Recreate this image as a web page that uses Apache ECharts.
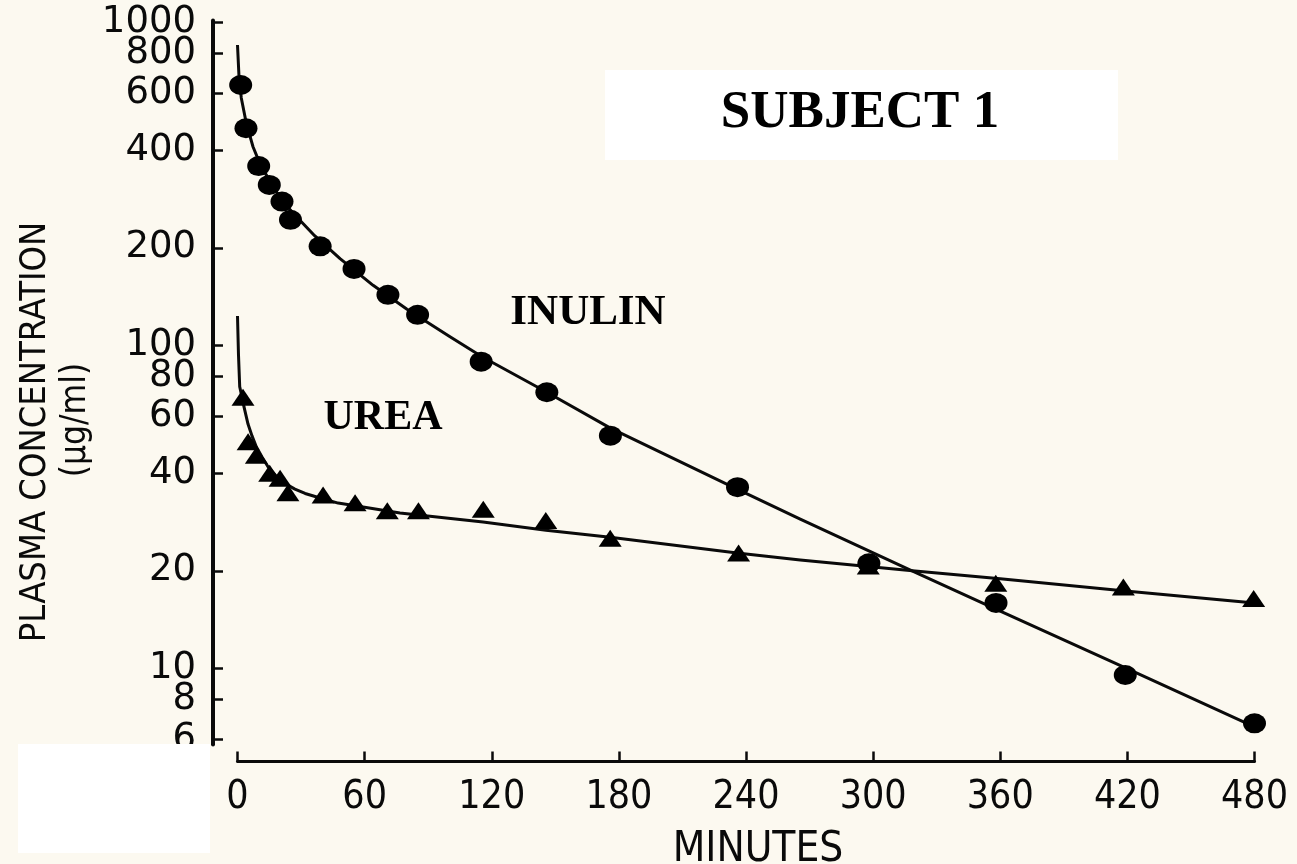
<!DOCTYPE html>
<html>
<head>
<meta charset="utf-8">
<script src="https://cdn.jsdelivr.net/npm/echarts@6/dist/echarts.min.js"></script>
<style>
html,body{margin:0;padding:0;background:#fcf9f0;}
#chart{width:1297px;height:864px;}
</style>
</head>
<body>
<div id="chart"></div>
<script>
// ---- data ----
const xTickValues = [0, 60, 120, 180, 240, 300, 360, 420, 480];
const yTickValues = [6, 8, 10, 20, 40, 60, 80, 100, 200, 400, 600, 800, 1000];

// measured points (minutes, µg/ml)
const inulinTimes = [1.5, 4, 10, 15, 21, 25, 39, 55, 71, 85, 115, 146, 176, 236, 298, 358, 419, 480];
const inulinConc  = [638, 469, 358, 313, 278, 244, 202, 172, 143, 124, 88.8, 71.4, 52.4, 36.3, 21.1, 15.9, 9.51, 6.74];

const ureaTimes = [2.6, 5, 8.9, 15.2, 20.1, 23.8, 40.4, 55.5, 70.7, 85.4, 116, 145.5, 175.9, 236.5, 297.7, 357.9, 418.1, 479.6];
const ureaConc  = [68.9, 50.2, 45.6, 40.1, 38.7, 34.9, 34.3, 32.5, 30.7, 30.7, 31.0, 28.6, 25.2, 22.7, 20.7, 18.3, 17.8, 16.4];

// fitted curves
const inulinCurveTimes = [0, 0.71, 1.79, 4.15, 7.32, 11.2, 16.0, 20.7, 27.0, 36.4, 48.4, 64.0, 80.0, 100.3, 115.6, 145.8, 176.0, 235.8, 265.6, 317.6, 360.0, 419.1, 480];
const inulinCurveConc  = [849, 677, 582, 486, 411, 356, 317, 281, 253, 218, 185, 153, 129, 106, 91.8, 71.5, 55.3, 35.8, 28.9, 20.1, 15.0, 10.0, 6.57];

const ureaCurveTimes = [0, 0.47, 1.04, 1.89, 3.07, 4.96, 6.85, 8.88, 11.57, 14.4, 18.2, 22.3, 27.1, 31.9, 39.0, 47.5, 57.8, 76.7, 115.9, 145.6, 175.9, 235.8, 265.6, 318.5, 360.0, 419.1, 480];
const ureaCurveConc  = [123, 93.1, 74.3, 70.0, 64.3, 56.9, 52.3, 48.4, 45.0, 42.0, 39.3, 37.3, 35.8, 34.7, 33.6, 32.4, 31.6, 30.2, 28.3, 26.7, 25.4, 22.7, 21.6, 20.0, 18.9, 17.3, 15.9];

const zip = (a, b) => a.map((v, i) => [v, b[i]]);

const INK = '#0a0a0a';
const narrow = "'Liberation Sans Narrow', 'DejaVu Sans Condensed', 'Liberation Sans', sans-serif";
const yLabelStyle = {margin: 17, color: INK, fontSize: 37, lineHeight: 26, fontFamily: "'DejaVu Sans', sans-serif",
  showMinLabel: true, showMaxLabel: true, hideOverlap: false, formatter: v => String(Math.round(v))};
const yScale = {type: 'log', logBase: 10, min: 5.8, max: 1010, offset: 24.5, splitLine: {show: false}, minorTick: {show: false}};

const chart = echarts.init(document.getElementById('chart'), null, {renderer: 'canvas'});
chart.setOption({
  animation: false,
  backgroundColor: '#fcf9f0',
  grid: {left: 237.5, right: 42.5, top: 20.6, bottom: 119.6, containLabel: false, outerBoundsMode: 'none'},
  xAxis: {
    type: 'value', min: 0, max: 480, interval: 60, offset: 17,
    axisLine: {show: true, onZero: false, lineStyle: {color: INK, width: 3}},
    axisTick: {show: true, inside: true, length: 10, lineStyle: {color: INK, width: 2.5}},
    splitLine: {show: false},
    axisLabel: {margin: 17, color: INK, fontSize: 39, fontFamily: narrow, showMinLabel: true, showMaxLabel: true,
      customValues: xTickValues, formatter: v => String(Math.round(v))},
    name: 'MINUTES', nameLocation: 'middle', nameGap: 68,
    nameTextStyle: {color: INK, fontSize: 42, fontFamily: narrow, padding: [0, 0, 0, 24]}
  },
  yAxis: [
    Object.assign({}, yScale, {
      position: 'left',
      axisLine: {show: true, onZero: false, lineStyle: {color: INK, width: 4}},
      axisTick: {show: true, inside: true, length: 10, lineStyle: {color: INK, width: 2.5}, customValues: yTickValues},
      axisLabel: Object.assign({}, yLabelStyle, {customValues: yTickValues.slice(0, -1)})
    }),
    Object.assign({}, yScale, {
      position: 'left',
      axisLine: {show: false, onZero: false},
      axisTick: {show: false},
      axisLabel: Object.assign({}, yLabelStyle, {customValues: yTickValues.slice(-1)})
    })
  ],
  graphic: [
    {type: 'rect', shape: {x: 605, y: 70, width: 513, height: 90}, style: {fill: '#ffffff'}, z: 1},
    {type: 'text', x: 860, y: 113, z: 2, style: {text: 'SUBJECT 1', fill: '#000', font: "bold 53px 'Liberation Serif', serif", textAlign: 'center', textVerticalAlign: 'middle'}},
    {type: 'text', x: 588, y: 313, z: 2, style: {text: 'INULIN', fill: '#000', font: "bold 43px 'Liberation Serif', serif", textAlign: 'center', textVerticalAlign: 'middle'}},
    {type: 'text', x: 383, y: 418, z: 2, style: {text: 'UREA', fill: '#000', font: "bold 42px 'Liberation Serif', serif", textAlign: 'center', textVerticalAlign: 'middle'}},
    {type: 'text', x: 36, y: 432, rotation: Math.PI / 2, z: 2, style: {text: 'PLASMA CONCENTRATION', fill: INK, font: "36px " + narrow, textAlign: 'center', textVerticalAlign: 'middle'}},
    {type: 'text', x: 76, y: 420, rotation: Math.PI / 2, z: 2, style: {text: '(µg/ml)', fill: INK, font: "35px " + narrow, textAlign: 'center', textVerticalAlign: 'middle'}},
    {type: 'rect', shape: {x: 18, y: 744, width: 192, height: 109}, style: {fill: '#ffffff'}, z: 100}
  ],
  series: [
    {type: 'line', name: 'Inulin fit', data: zip(inulinCurveTimes, inulinCurveConc), smooth: false,
      symbol: 'none', clip: false, lineStyle: {color: INK, width: 3, join: 'round'}, z: 2},
    {type: 'line', name: 'Urea fit', data: zip(ureaCurveTimes, ureaCurveConc), smooth: false,
      symbol: 'none', clip: false, lineStyle: {color: INK, width: 3, join: 'round'}, z: 2},
    {type: 'scatter', name: 'Inulin', data: zip(inulinTimes, inulinConc), symbol: 'circle', symbolSize: [23, 20],
      itemStyle: {color: '#000', opacity: 1}, z: 3},
    {type: 'scatter', name: 'Urea', data: zip(ureaTimes, ureaConc), symbol: 'triangle', symbolSize: [23, 17],
      itemStyle: {color: '#000', opacity: 1}, z: 3}
  ]
});
</script>
</body>
</html>
